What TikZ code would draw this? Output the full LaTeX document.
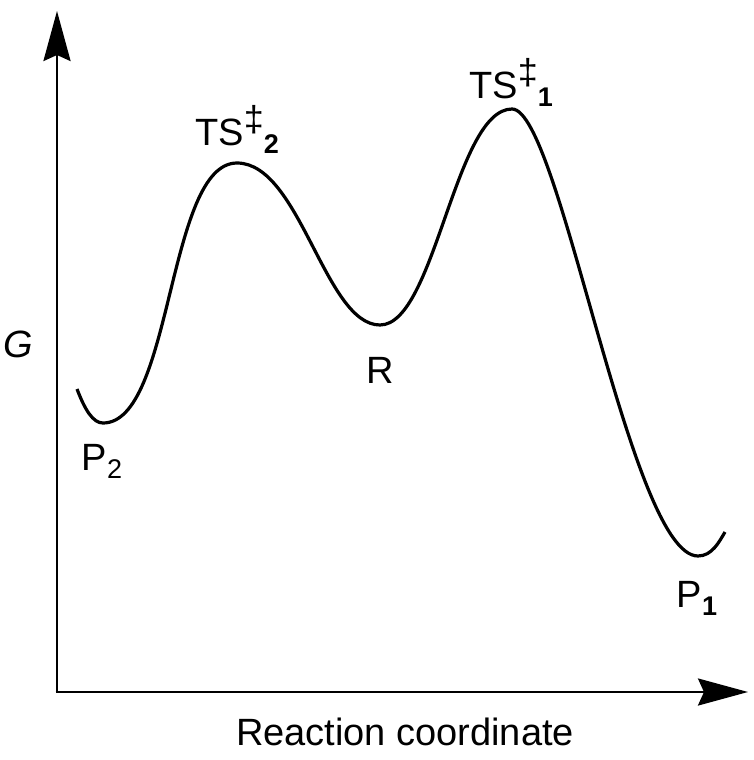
\documentclass[tikz,border=0pt]{standalone}
\usepackage{fontspec}
\setmainfont{Liberation Sans}
\usetikzlibrary{arrows.meta}
\newcommand{\mysub}[1]{\raisebox{-0.22em}{\fontsize{27}{30}\selectfont #1}}
\newcommand{\mydag}{\raisebox{0.36em}{\fontsize{36}{40}\selectfont ‡}}
\begin{document}
\begin{tikzpicture}[x=1pt,y=-1pt,
  lbl/.style={font=\fontsize{38}{44}\selectfont, inner sep=0pt, anchor=base},
  axis/.style={line width=2.6pt, -{Stealth[length=50pt,width=27pt,inset=6pt]}},
  curve/.style={line width=3.2pt}]
\useasboundingbox (0,0) rectangle (754,760);
\coordinate (O) at (57,692);
\coordinate (Ytop) at (57,11);
\coordinate (Xend) at (748,692);
\draw[axis] (O) -- (Ytop);
\draw[axis] ([xshift=-1.3pt]O) -- (Xend);
\coordinate (S) at (77,389);
\coordinate (P2) at (103,423);
\coordinate (TS2) at (237,163);
\coordinate (R) at (380,325);
\coordinate (TS1) at (512,109);
\coordinate (P1) at (698,556);
\coordinate (E) at (725,532);
\draw[curve] (S) .. controls (85,410) and (93,423) .. (P2)
  .. controls (173,423) and (167,163) .. (TS2)
  .. controls (300,163) and (325,325) .. (R)
  .. controls (435,325) and (455,109) .. (TS1)
  .. controls (560,109) and (630,556) .. (P1)
  .. controls (712,556) and (719,542) .. (E);
\node[lbl] (lTS2) at (237,145) {TS\mydag\mysub{\textbf{2}}};
\node[lbl] (lTS1) at (511,98) {TS\mydag\mysub{\textbf{1}}};
\node[lbl] (lR) at (380,383) {R};
\node[lbl] (lP2) at (102,470) {P\mysub{2}};
\node[lbl] (lP1) at (697,607) {P\mysub{\textbf{1}}};
\node[lbl] (lG) at (18,357) {\itshape G};
\node[lbl] (lX) at (405,745) {Reaction coordinate};
\end{tikzpicture}
\end{document}
